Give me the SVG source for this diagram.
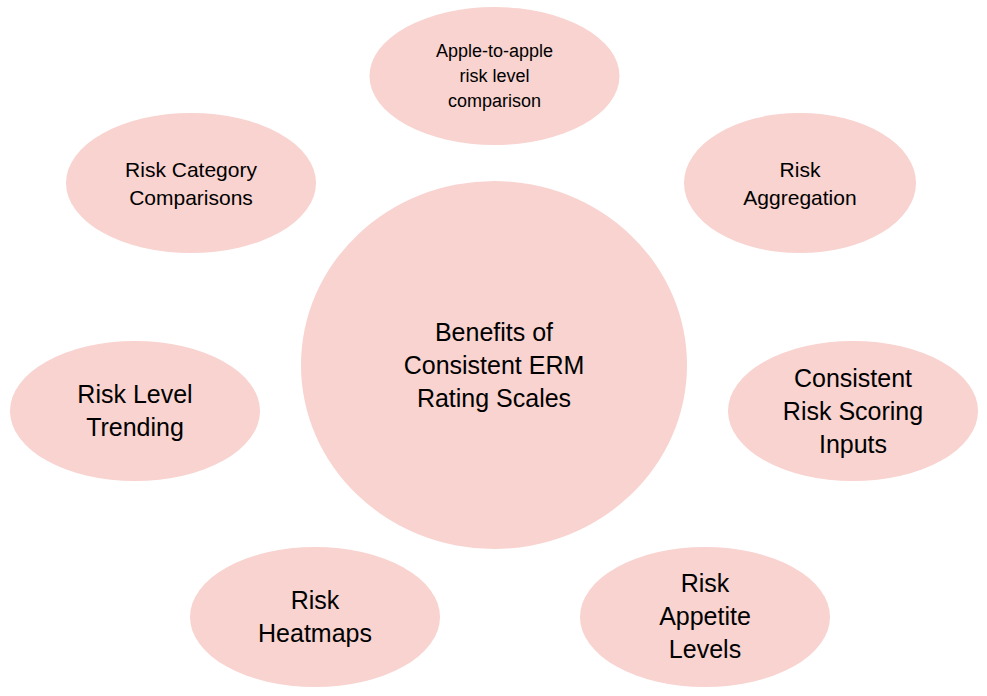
<svg xmlns="http://www.w3.org/2000/svg" width="987" height="696" viewBox="0 0 987 696">
<style>
.n{fill:#f8d3cf;stroke:none}
text{font-family:"Liberation Sans",Arial,sans-serif;fill:#000;text-anchor:middle}
.s{font-size:18px}.m{font-size:21px}.l{font-size:25px}
</style>
<rect width="987" height="696" fill="#fff"/>
<g id="center"><ellipse class="n" cx="494" cy="365" rx="193" ry="184"/>
<text class="l"><tspan x="494" y="341">Benefits of</tspan><tspan x="494" y="374">Consistent ERM</tspan><tspan x="494" y="407">Rating Scales</tspan></text></g>
<g id="apple"><ellipse class="n" cx="494.5" cy="76" rx="125" ry="69"/>
<text class="s"><tspan x="494.5" y="57">Apple-to-apple</tspan><tspan x="494.5" y="82">risk level</tspan><tspan x="494.5" y="107">comparison</tspan></text></g>
<g id="category"><ellipse class="n" cx="191" cy="183" rx="125" ry="70"/>
<text class="m"><tspan x="191" y="177">Risk Category</tspan><tspan x="191" y="205">Comparisons</tspan></text></g>
<g id="aggregation"><ellipse class="n" cx="800" cy="183" rx="116" ry="70"/>
<text class="m"><tspan x="800" y="177">Risk</tspan><tspan x="800" y="205">Aggregation</tspan></text></g>
<g id="trending"><ellipse class="n" cx="135" cy="411" rx="125" ry="70"/>
<text class="l"><tspan x="135" y="403">Risk Level</tspan><tspan x="135" y="436">Trending</tspan></text></g>
<g id="scoring"><ellipse class="n" cx="853" cy="411" rx="125" ry="70"/>
<text class="l"><tspan x="853" y="387">Consistent</tspan><tspan x="853" y="420">Risk Scoring</tspan><tspan x="853" y="453">Inputs</tspan></text></g>
<g id="heatmaps"><ellipse class="n" cx="315" cy="617" rx="125" ry="70"/>
<text class="l"><tspan x="315" y="609">Risk</tspan><tspan x="315" y="642">Heatmaps</tspan></text></g>
<g id="appetite"><ellipse class="n" cx="705" cy="617" rx="125" ry="70"/>
<text class="l"><tspan x="705" y="592">Risk</tspan><tspan x="705" y="625">Appetite</tspan><tspan x="705" y="658">Levels</tspan></text></g>
<g id="connectors"/>
</svg>
